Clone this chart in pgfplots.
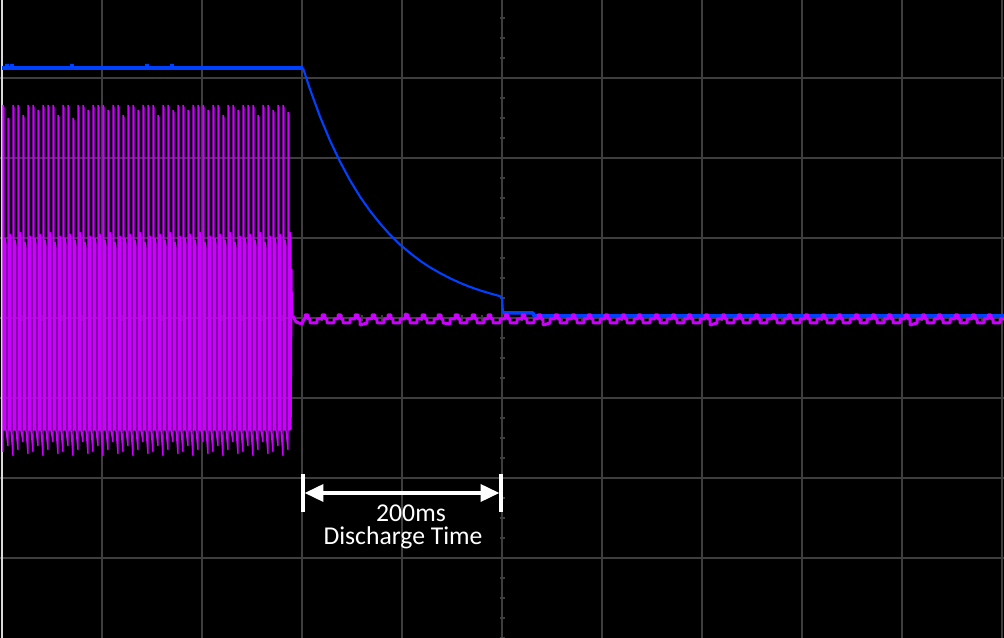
\documentclass[border=0pt]{standalone}
\usepackage{pgfplots}
\pgfplotsset{compat=1.18}
\usepackage{fontspec}
\setmainfont{Carlito}
\usetikzlibrary{arrows.meta}

\definecolor{scopeblue}{RGB}{0,64,255}
\definecolor{scopemag}{RGB}{204,0,255}
\definecolor{gridgray}{RGB}{62,62,62}

% x: 1 unit = 1 ms (100 ms/div), y: screen units, 80 per division
\begin{document}
\begin{tikzpicture}
\begin{axis}[
  width=10.04cm, height=6.38cm, scale only axis,
  xmin=0, xmax=1004, ymin=-320, ymax=318,
  axis background/.style={fill=black},
  axis line style={draw=none},
  xtick={2,102,...,1002}, ytick={-240,-160,...,240},
  xticklabels={}, yticklabels={},
  major tick length=0pt,
  grid=major,
  grid style={color=gridgray, line width=0.4pt},
]
% graticule marks on the centre lines
\pgfplotsinvokeforeach{-320,-300,...,320}{
  \draw[gridgray, line width=0.4pt] (axis cs:499.5,#1) -- (axis cs:504.5,#1);
}
\pgfplotsinvokeforeach{2,22,...,1002}{
  \draw[gridgray, line width=0.4pt] (axis cs:#1,-3) -- (axis cs:#1,3);
}
\draw[white!85!black, line width=0.35pt] (axis cs:2,-320) -- (axis cs:2,318);

% blue channel: rail voltage
\addplot[scopeblue, line width=1.1pt, line join=bevel] coordinates {
  (2,250) (7,250) (7,254) (7,250) (12,250) (12,254) (12,250)
  (72,250) (72,254) (72,250) (147,250) (147,254) (147,250)
  (172,250) (172,254) (172,250) (303,250)
};
\addplot[scopeblue, line width=0.6pt, line join=bevel] coordinates {
  (303,250) (310,228.7) (320,201.4) (330,177.4) (340,156.3) (350,137.7)
  (360,121.3) (370,107.1) (380,94.5) (390,83.3) (400,73.4) (410,65)
  (420,57.3) (430,50.6) (440,44.9) (450,39.7) (460,35.1) (470,31.1)
  (480,27.6) (490,24.6) (500,21.8) (502,20) (503,5)
};
\addplot[scopeblue, line width=1.0pt, line join=bevel] coordinates {
  (503,5) (533,5) (534,2) (1004,2)
};

% magenta channel: switching waveform, one line per cycle
\addplot[scopemag, line width=0.38pt, line join=bevel] coordinates {
  (3,-134) (3,213) (4,210) (4,-112) (5,-112) (5,80) (6,74) (6,-112)
  (8,-128) (8,200) (9,197) (9,-112) (10,-112) (10,84) (11,78) (11,-112)
  (13,-138) (13,213) (14,210) (14,-112) (15,-112) (15,78) (16,72) (16,-112)
  (18,-132) (18,213) (19,210) (19,-112) (20,-112) (20,86) (21,80) (21,-112)
  (23,-124) (23,203) (24,200) (24,-112) (25,-112) (25,76) (26,70) (26,-112)
  (28,-136) (28,213) (29,210) (29,-112) (30,-112) (30,82) (31,76) (31,-112)
  (33,-134) (33,213) (34,210) (34,-112) (35,-112) (35,80) (36,74) (36,-112)
  (38,-128) (38,208) (39,205) (39,-112) (40,-112) (40,84) (41,78) (41,-112)
  (43,-138) (43,213) (44,210) (44,-112) (45,-112) (45,78) (46,72) (46,-112)
  (48,-132) (48,213) (49,210) (49,-112) (50,-112) (50,86) (51,80) (51,-112)
  (53,-124) (53,213) (54,210) (54,-112) (55,-112) (55,76) (56,70) (56,-112)
  (58,-136) (58,203) (59,200) (59,-112) (60,-112) (60,82) (61,76) (61,-112)
  (63,-134) (63,213) (64,210) (64,-112) (65,-112) (65,80) (66,74) (66,-112)
  (68,-128) (68,213) (69,210) (69,-112) (70,-112) (70,84) (71,78) (71,-112)
  (73,-138) (73,200) (74,197) (74,-112) (75,-112) (75,78) (76,72) (76,-112)
  (78,-132) (78,213) (79,210) (79,-112) (80,-112) (80,86) (81,80) (81,-112)
  (83,-124) (83,213) (84,210) (84,-112) (85,-112) (85,76) (86,70) (86,-112)
  (88,-136) (88,208) (89,205) (89,-112) (90,-112) (90,82) (91,76) (91,-112)
  (93,-134) (93,213) (94,210) (94,-112) (95,-112) (95,80) (96,74) (96,-112)
  (98,-128) (98,213) (99,210) (99,-112) (100,-112) (100,84) (101,78) (101,-112)
  (103,-138) (103,213) (104,210) (104,-112) (105,-112) (105,78) (106,72) (106,-112)
  (108,-132) (108,208) (109,205) (109,-112) (110,-112) (110,86) (111,80) (111,-112)
  (113,-124) (113,213) (114,210) (114,-112) (115,-112) (115,76) (116,70) (116,-112)
  (118,-136) (118,213) (119,210) (119,-112) (120,-112) (120,82) (121,76) (121,-112)
  (123,-134) (123,203) (124,200) (124,-112) (125,-112) (125,80) (126,74) (126,-112)
  (128,-128) (128,213) (129,210) (129,-112) (130,-112) (130,84) (131,78) (131,-112)
  (133,-138) (133,213) (134,210) (134,-112) (135,-112) (135,78) (136,72) (136,-112)
  (138,-132) (138,208) (139,205) (139,-112) (140,-112) (140,86) (141,80) (141,-112)
  (143,-124) (143,213) (144,210) (144,-112) (145,-112) (145,76) (146,70) (146,-112)
  (148,-136) (148,213) (149,210) (149,-112) (150,-112) (150,82) (151,76) (151,-112)
  (153,-134) (153,213) (154,210) (154,-112) (155,-112) (155,80) (156,74) (156,-112)
  (158,-128) (158,203) (159,200) (159,-112) (160,-112) (160,84) (161,78) (161,-112)
  (163,-138) (163,213) (164,210) (164,-112) (165,-112) (165,78) (166,72) (166,-112)
  (168,-132) (168,213) (169,210) (169,-112) (170,-112) (170,86) (171,80) (171,-112)
  (173,-124) (173,208) (174,205) (174,-112) (175,-112) (175,76) (176,70) (176,-112)
  (178,-136) (178,213) (179,210) (179,-112) (180,-112) (180,82) (181,76) (181,-112)
  (183,-134) (183,213) (184,210) (184,-112) (185,-112) (185,80) (186,74) (186,-112)
  (188,-128) (188,208) (189,205) (189,-112) (190,-112) (190,84) (191,78) (191,-112)
  (193,-138) (193,213) (194,210) (194,-112) (195,-112) (195,78) (196,72) (196,-112)
  (198,-132) (198,213) (199,210) (199,-112) (200,-112) (200,86) (201,80) (201,-112)
  (203,-124) (203,213) (204,210) (204,-112) (205,-112) (205,76) (206,70) (206,-112)
  (208,-136) (208,208) (209,205) (209,-112) (210,-112) (210,82) (211,76) (211,-112)
  (213,-134) (213,213) (214,210) (214,-112) (215,-112) (215,80) (216,74) (216,-112)
  (218,-128) (218,213) (219,210) (219,-112) (220,-112) (220,84) (221,78) (221,-112)
  (223,-138) (223,203) (224,200) (224,-112) (225,-112) (225,78) (226,72) (226,-112)
  (228,-132) (228,213) (229,210) (229,-112) (230,-112) (230,86) (231,80) (231,-112)
  (233,-124) (233,213) (234,210) (234,-112) (235,-112) (235,76) (236,70) (236,-112)
  (238,-136) (238,208) (239,205) (239,-112) (240,-112) (240,82) (241,76) (241,-112)
  (243,-134) (243,213) (244,210) (244,-112) (245,-112) (245,80) (246,74) (246,-112)
  (248,-128) (248,213) (249,210) (249,-112) (250,-112) (250,84) (251,78) (251,-112)
  (253,-138) (253,213) (254,210) (254,-112) (255,-112) (255,78) (256,72) (256,-112)
  (258,-132) (258,203) (259,200) (259,-112) (260,-112) (260,86) (261,80) (261,-112)
  (263,-124) (263,213) (264,210) (264,-112) (265,-112) (265,76) (266,70) (266,-112)
  (268,-136) (268,213) (269,210) (269,-112) (270,-112) (270,82) (271,76) (271,-112)
  (273,-134) (273,208) (274,205) (274,-112) (275,-112) (275,80) (276,74) (276,-112)
  (278,-128) (278,213) (279,210) (279,-112) (280,-112) (280,84) (281,78) (281,-112)
  (283,-138) (283,213) (284,210) (284,-112) (285,-112) (285,78) (286,72) (286,-112)
  (288,-132) (288,206) (289,203) (289,-112) (290,-112) (290,86) (291,80) (291,-112)
  (292,49) (292,28) (293,2)
};
\addplot[scopemag, line width=0.85pt, line join=bevel] coordinates {
  (293,2) (296,-4) (302,-6) (304,-1)
  (305,-1) (305,3) (308,3) (308,-1) (310,-1) (310,-5) (317,-5) (317,-1)
  (322,-1) (322,3) (325,3) (325,-1) (327,-1) (327,-5) (334,-5) (334,-1)
  (338,-1) (338,3) (341,3) (341,-1) (343,-1) (343,-5) (350,-5) (350,-1)
  (355,-1) (355,3) (358,3) (358,-1) (360,-1) (360,-7) (367,-5) (367,-1)
  (372,-1) (372,3) (375,3) (375,-1) (377,-1) (377,-5) (384,-5) (384,-1)
  (388,-1) (388,3) (391,3) (391,-1) (393,-1) (393,-5) (400,-5) (400,-1)
  (405,-1) (405,4) (408,3) (408,-1) (410,-1) (410,-5) (417,-5) (417,-1)
  (422,-1) (422,3) (425,3) (425,-1) (427,-1) (427,-5) (434,-5) (434,-1)
  (438,-1) (438,3) (441,3) (441,-1) (443,-1) (443,-5) (450,-6) (450,-1)
  (455,-1) (455,3) (458,3) (458,-1) (460,-1) (460,-5) (467,-5) (467,-1)
  (472,-1) (472,3) (475,3) (475,-1) (477,-1) (477,-5) (484,-5) (484,-1)
  (488,-1) (488,3) (491,3) (491,-1) (493,-1) (493,-5) (500,-5) (500,-1)
  (505,-1) (505,3) (508,3) (508,-1) (510,-1) (510,-5) (517,-5) (517,-1)
  (522,-1) (522,3) (525,3) (525,-1) (527,-1) (527,-5) (534,-5) (534,-1)
  (538,-1) (538,3) (541,3) (541,-1) (543,-1) (543,-7) (550,-5) (550,-1)
  (555,-1) (555,3) (558,3) (558,-1) (560,-1) (560,-5) (567,-5) (567,-1)
  (572,-1) (572,3) (575,3) (575,-1) (577,-1) (577,-5) (584,-5) (584,-1)
  (588,-1) (588,3) (591,3) (591,-1) (593,-1) (593,-5) (600,-5) (600,-1)
  (605,-1) (605,3) (608,3) (608,-1) (610,-1) (610,-5) (617,-5) (617,-1)
  (622,-1) (622,3) (625,3) (625,-1) (627,-1) (627,-5) (634,-5) (634,-1)
  (638,-1) (638,3) (641,3) (641,-1) (643,-1) (643,-5) (650,-5) (650,-1)
  (655,-1) (655,3) (658,3) (658,-1) (660,-1) (660,-5) (667,-5) (667,-1)
  (672,-1) (672,3) (675,3) (675,-1) (677,-1) (677,-5) (684,-5) (684,-1)
  (688,-1) (688,3) (691,3) (691,-1) (693,-1) (693,-5) (700,-5) (700,-1)
  (705,-1) (705,3) (708,3) (708,-1) (710,-1) (710,-7) (717,-5) (717,-1)
  (722,-1) (722,3) (725,3) (725,-1) (727,-1) (727,-5) (734,-5) (734,-1)
  (738,-1) (738,3) (741,3) (741,-1) (743,-1) (743,-5) (750,-5) (750,-1)
  (755,-1) (755,3) (758,3) (758,-1) (760,-1) (760,-5) (767,-5) (767,-1)
  (772,-1) (772,3) (775,3) (775,-1) (777,-1) (777,-5) (784,-5) (784,-1)
  (788,-1) (788,3) (791,3) (791,-1) (793,-1) (793,-5) (800,-5) (800,-1)
  (805,-1) (805,3) (808,3) (808,-1) (810,-1) (810,-5) (817,-5) (817,-1)
  (822,-1) (822,3) (825,3) (825,-1) (827,-1) (827,-5) (834,-5) (834,-1)
  (838,-1) (838,3) (841,3) (841,-1) (843,-1) (843,-5) (850,-5) (850,-1)
  (855,-1) (855,3) (858,3) (858,-1) (860,-1) (860,-5) (867,-5) (867,-1)
  (872,-1) (872,3) (875,3) (875,-1) (877,-1) (877,-5) (884,-5) (884,-1)
  (888,-1) (888,3) (891,3) (891,-1) (893,-1) (893,-5) (900,-5) (900,-1)
  (905,-1) (905,3) (908,3) (908,-1) (910,-1) (910,-7) (917,-5) (917,-1)
  (922,-1) (922,3) (925,3) (925,-1) (927,-1) (927,-5) (934,-5) (934,-1)
  (938,-1) (938,3) (941,3) (941,-1) (943,-1) (943,-5) (950,-5) (950,-1)
  (955,-1) (955,3) (958,3) (958,-1) (960,-1) (960,-5) (967,-5) (967,-1)
  (972,-1) (972,3) (975,3) (975,-1) (977,-1) (977,-5) (984,-5) (984,-1)
  (988,-1) (988,3) (991,3) (991,-1) (993,-1) (993,-5) (1000,-5) (1000,-1)
  (1005,-1)
};

% discharge time annotation
\draw[white, line width=1.15pt] (axis cs:303,-156) -- (axis cs:303,-194);
\draw[white, line width=1.15pt] (axis cs:501,-156) -- (axis cs:501,-194);
\draw[white, line width=1.15pt,
  {Triangle[length=5.4pt,width=4.8pt]}-{Triangle[length=5.4pt,width=4.8pt]}]
  (axis cs:304.5,-175) -- (axis cs:499.5,-175);
\node[white, anchor=base, inner sep=0pt, font=\fontsize{7.3}{8.7}\selectfont]
  at (axis cs:411,-204) {200ms};
\node[white, anchor=base, inner sep=0pt, font=\fontsize{7.3}{8.7}\selectfont]
  at (axis cs:403,-227) {Discharge Time};

\coordinate (bl) at (rel axis cs:0,0);
\coordinate (tr) at (rel axis cs:1,1);
\end{axis}
\pgfresetboundingbox
\path (bl) rectangle (tr);
\end{tikzpicture}
\end{document}
